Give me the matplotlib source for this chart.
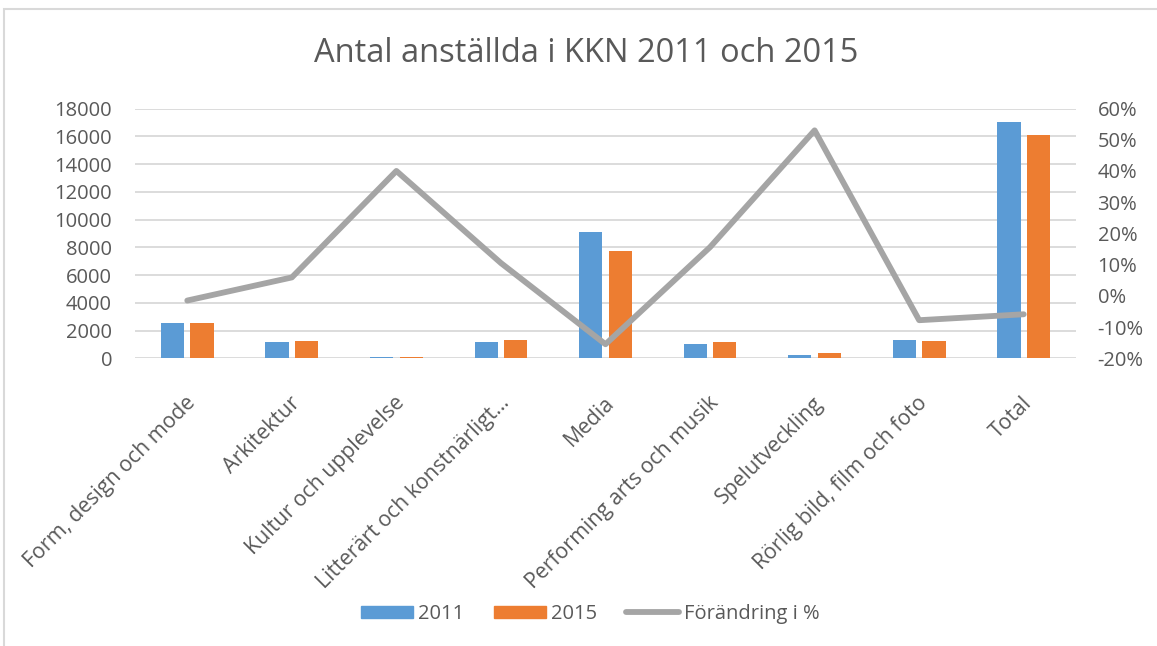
import matplotlib
matplotlib.use("Agg")
import matplotlib.pyplot as plt
import numpy as np
from matplotlib.patches import Rectangle
from matplotlib.lines import Line2D
from matplotlib.ticker import FuncFormatter
import matplotlib.transforms as mtransforms

categories = ["Form, design och mode", "Arkitektur", "Kultur och upplevelse",
              "Litterärt och konstnärligt…", "Media", "Performing arts och musik",
              "Spelutveckling", "Rörlig bild, film och foto", "Total"]
v2011 = [2560, 1170, 90, 1150, 9110, 1010, 240, 1300, 17000]
v2015 = [2520, 1240, 120, 1290, 7720, 1170, 360, 1220, 16070]
change = [-1.5, 5.9, 40.0, 10.5, -15.5, 15.6, 53.0, -7.8, -5.9]
left_ticks = list(range(0, 18001, 2000))
right_ticks = list(range(-20, 61, 10))

BLUE = "#5B9BD5"
ORANGE = "#ED7D31"
GRAY = "#A5A5A5"
TXT = "#595959"
GRID = "#D9D9D9"
FONT = "Open Sans"
plt.rcParams["font.family"] = [FONT, "DejaVu Sans"]

W, H = 1157, 646
fig = plt.figure(figsize=(W / 100, H / 100), dpi=100)
fig.patch.set_facecolor("white")
# chart border
fig.patches.append(Rectangle((4 / W, -0.1), 1.2, (H - 9) / H + 0.1,
                             transform=fig.transFigure, fill=False,
                             edgecolor="#D9D9D9", lw=1.5))

x0, x1 = 135, 1076
y0, y1 = 358.3, 108.5
ax = fig.add_axes([x0 / W, 1 - y0 / H, (x1 - x0) / W, (y0 - y1) / H])
x = np.arange(len(categories))
bw = 0.222
off = 0.141
ax.bar(x - off, v2011, bw, color=BLUE, zorder=2, label="2011")
ax.bar(x + off, v2015, bw, color=ORANGE, zorder=2, label="2015")
ax.set_xlim(-0.5, len(categories) - 0.5)
ax.set_ylim(0, 18000)
ax.set_yticks(left_ticks)
ax.yaxis.grid(True, color=GRID, lw=1.3, zorder=0)
ax.set_axisbelow(True)
for s in ax.spines.values():
    s.set_visible(False)
ax.tick_params(axis="y", length=0, pad=16.5, labelsize=14.5, labelcolor=TXT)
ax.tick_params(axis="x", length=0, pad=24.5, labelsize=15.3, labelcolor=TXT)
ax.set_xticks(x)
ax.set_xticklabels(categories, rotation=45, ha="right", va="top",
                   rotation_mode="anchor")
shift = mtransforms.ScaledTranslation(-2 / 100, 0, fig.dpi_scale_trans)
for lbl in ax.get_xticklabels():
    lbl.set_transform(lbl.get_transform() + shift)

ax2 = ax.twinx()
ax2.plot(x, change, color=GRAY, lw=4.2, solid_capstyle="round",
         solid_joinstyle="round", zorder=3, label="Förändring i %")
ax2.set_ylim(-20, 60)
ax2.set_yticks(right_ticks)
ax2.yaxis.set_major_formatter(FuncFormatter(lambda v, p: f"{v:.0f}%"))
for s in ax2.spines.values():
    s.set_visible(False)
ax2.tick_params(axis="y", length=0, pad=15.5, labelsize=14.5, labelcolor=TXT)

fig.text(586 / W, 1 - 54 / H, "Antal anställda i KKN 2011 och 2015",
         ha="center", va="center", fontsize=23.5, color=TXT)

handles = [Rectangle((0, 0), 1, 1, color=BLUE),
           Rectangle((0, 0), 1, 1, color=ORANGE),
           Line2D([0], [0], color=GRAY, lw=4.2, solid_capstyle="round")]
fig.legend(handles, ["2011", "2015", "Förändring i %"], loc="center",
           bbox_to_anchor=(590 / W, 1 - 614 / H), ncol=3, frameon=False,
           fontsize=14.5, labelcolor=TXT, handlelength=2.6, handleheight=0.6,
           columnspacing=1.45, handletextpad=0.25)

fig.savefig("out.png", dpi=100, facecolor="white")
